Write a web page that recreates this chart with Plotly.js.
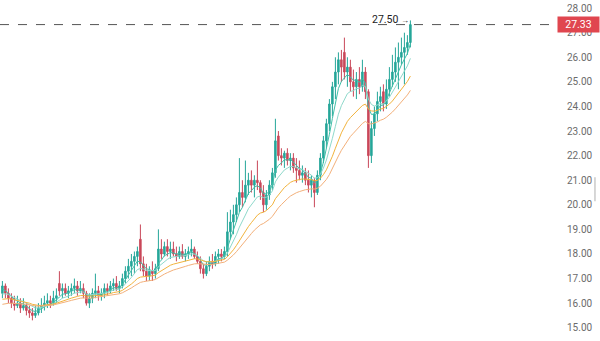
<!DOCTYPE html>
<html>
<head>
<meta charset="utf-8">
<script src="https://cdn.plot.ly/plotly-3.0.1.min.js"></script>
<style>
html,body{margin:0;padding:0;background:#fff;}
#chart{width:600px;height:341px;}
</style>
</head>
<body>
<div id="chart"></div>
<script>
// OHLC data (index = bar number)
const opens = [
16.4,16.7,16.4,16.2,16.0,15.9,16.0,15.8,15.9,15.7,
15.6,15.5,15.6,15.8,15.9,16.0,16.1,16.0,16.2,16.8,
16.5,16.6,16.4,16.5,16.6,16.7,16.5,16.6,16.4,16.0,
16.2,16.4,16.5,16.3,16.4,16.6,16.5,16.7,16.8,16.6,
16.7,17.0,17.3,17.5,17.7,17.9,18.6,17.6,17.3,17.1,
17.3,17.2,17.4,18.2,18.0,18.3,18.1,18.2,18.0,17.9,
18.1,17.9,18.0,18.1,18.2,17.9,17.7,17.4,17.2,17.5,
17.7,17.6,17.9,18.0,17.9,18.1,18.9,19.3,19.6,20.0,
20.5,20.3,20.8,21.0,20.8,21.0,20.9,20.5,20.0,20.4,
20.8,21.3,22.8,22.0,21.9,22.1,21.8,21.9,21.5,21.4,
21.2,21.3,21.0,20.8,21.0,20.5,21.2,21.9,22.6,23.3,
24.1,24.8,25.4,25.9,26.2,25.4,25.6,25.0,24.8,25.1,
24.8,25.4,24.6,22.0,23.1,23.7,24.2,24.6,24.1,24.7,
25.1,25.4,25.8,26.0,26.2,26.4,26.6];
const highs = [
16.9,16.8,16.6,16.4,16.3,16.3,16.2,16.2,16.0,15.9,
15.8,15.9,16.0,16.2,16.3,16.4,16.3,16.5,16.6,17.3,
16.8,16.8,16.7,16.8,17.0,16.9,16.9,16.8,16.5,16.4,
16.6,17.2,16.7,16.6,16.8,16.8,16.9,17.0,17.1,16.9,
17.2,17.5,17.8,18.0,18.1,18.3,19.2,17.9,17.6,17.5,
17.7,17.6,19.0,18.6,18.5,18.6,18.5,18.5,18.3,18.3,
18.4,18.2,18.3,18.6,18.3,18.1,17.9,17.6,17.7,17.9,
18.0,18.1,18.2,18.2,18.3,19.7,19.8,20.0,20.3,21.9,
21.0,21.8,21.3,21.4,21.2,21.8,21.0,20.8,20.6,21.0,
21.5,23.5,23.0,22.3,22.2,22.3,22.1,22.1,21.9,21.8,
21.6,21.5,21.4,21.2,21.1,21.4,22.1,22.8,23.5,24.3,
25.0,26.0,26.2,26.3,26.8,26.0,25.9,25.5,25.4,25.6,
25.9,25.6,24.7,23.4,24.0,24.6,24.8,24.9,25.1,25.6,
26.1,26.4,26.6,26.8,27.0,26.9,27.5];
const lows = [
16.2,16.2,16.0,15.8,15.7,15.8,15.6,15.7,15.5,15.4,
15.3,15.4,15.5,15.6,15.7,15.8,15.8,15.9,16.0,16.3,
16.2,16.3,16.2,16.3,16.4,16.3,16.4,16.2,15.9,15.8,
16.0,16.2,16.1,16.1,16.2,16.3,16.4,16.5,16.5,16.4,
16.6,16.8,17.0,17.1,17.2,17.5,17.3,17.1,16.9,16.9,
16.9,17.0,17.3,17.8,17.9,17.9,17.8,17.9,17.7,17.8,
17.8,17.7,17.8,17.9,17.8,17.6,17.2,17.0,17.1,17.3,
17.4,17.5,17.6,17.7,17.8,17.9,18.6,18.8,19.3,19.7,
19.9,20.1,20.4,20.5,20.3,20.6,20.2,19.7,19.8,20.2,
20.6,21.1,21.8,21.6,21.5,21.6,21.4,21.3,20.9,21.0,
20.9,20.8,20.5,20.3,19.9,20.4,21.0,21.7,22.3,23.0,
23.6,24.3,24.9,25.0,25.1,24.8,24.6,24.4,24.3,24.5,
24.6,24.3,21.5,21.7,22.8,23.4,23.8,23.8,23.9,24.4,
24.8,25.0,24.7,25.7,24.9,26.1,26.4];
const closes = [
16.7,16.4,16.2,16.0,15.9,16.0,15.8,15.9,15.7,15.6,
15.5,15.6,15.8,15.9,16.0,16.1,16.0,16.2,16.3,16.5,
16.6,16.4,16.5,16.6,16.7,16.5,16.6,16.4,16.0,16.2,
16.4,16.5,16.3,16.4,16.6,16.5,16.7,16.8,16.6,16.7,
17.0,17.3,17.5,17.7,17.9,18.1,17.6,17.3,17.1,17.3,
17.2,17.4,18.2,18.0,18.3,18.1,18.2,18.0,17.9,18.1,
17.9,18.0,18.1,18.2,17.9,17.7,17.4,17.2,17.5,17.7,
17.6,17.9,18.0,17.9,18.1,18.9,19.3,19.6,20.0,20.5,
20.3,20.8,21.0,20.8,21.0,20.9,20.5,20.0,20.4,20.8,
21.3,22.6,22.0,21.9,22.1,21.8,21.9,21.5,21.4,21.2,
21.3,21.0,20.8,21.0,20.5,21.2,21.9,22.6,23.3,24.1,
24.8,25.4,25.9,25.6,25.4,25.6,25.0,24.8,25.1,24.8,
25.4,24.6,22.0,23.1,23.7,24.2,24.4,24.1,24.7,25.1,
25.4,25.8,26.0,26.2,26.4,26.6,27.33];

// Moving averages: periods and their starting levels read from the left edge
const maPeriods = [5, 10, 20, 30];
const maStarts  = [16.5, 16.3, 16.1, 15.9];
const maColors  = ['#3fbfa8', '#8fd9cb', '#f2b33d', '#f3b07a'];

const yTicks = [15,16,17,18,19,20,21,22,23,24,25,26,27,28];
const lastPrice = 27.33;
const lastHigh = 27.50;

const idx = closes.map((_, i) => i);

function ema(values, period, start) {
  const k = 2 / (period + 1);
  const out = [];
  let prev = start;
  for (const v of values) { prev = prev + k * (v - prev); out.push(prev); }
  return out;
}

const traces = [];
maPeriods.forEach((p, j) => {
  traces.push({
    type: 'scatter', mode: 'lines', x: idx, y: ema(closes, p, maStarts[j]),
    line: {color: maColors[j], width: 1}, hoverinfo: 'skip'
  });
});
traces.push({
  type: 'candlestick', x: idx, open: opens, high: highs, low: lows, close: closes,
  increasing: {line: {color: '#26a69a', width: 1}, fillcolor: '#26a69a'},
  decreasing: {line: {color: '#c9485a', width: 1}, fillcolor: '#c9485a'},
  whiskerwidth: 0, hoverinfo: 'skip'
});

const layout = {
  width: 600, height: 341,
  margin: {l: 0, r: 45, t: 0, b: 0},
  paper_bgcolor: '#ffffff', plot_bgcolor: '#ffffff',
  showlegend: false, hovermode: false,
  xaxis: {range: [-0.8, 184.2], visible: false, rangeslider: {visible: false}, fixedrange: true},
  yaxis: {
    range: [14.46, 28.33], side: 'right', showgrid: false, zeroline: false,
    tickvals: yTicks, ticktext: yTicks.map(v => v.toFixed(2)),
    ticks: '', ticklabelstandoff: 11,
    tickfont: {family: 'Roboto, sans-serif', size: 10, color: '#6b6b6b'},
    showline: false, fixedrange: true
  },
  shapes: [
    {type: 'line', xref: 'paper', x0: 0, x1: 1.005, yref: 'y', y0: lastPrice, y1: lastPrice,
     line: {color: '#555555', width: 1, dash: 'dash'}},
    {type: 'rect', xref: 'paper', x0: 1.0705, x1: 1.0735, yref: 'paper', y0: 0.41, y1: 0.48,
     fillcolor: '#cfcfcf', line: {width: 0}}
  ],
  annotations: [
    {xref: 'paper', x: 1.004, xanchor: 'left', yref: 'y', y: lastPrice, yanchor: 'middle',
     text: lastPrice.toFixed(2), showarrow: false, bgcolor: '#e0464f',
     font: {family: 'Roboto, sans-serif', size: 10.5, color: '#ffffff'},
     width: 38, height: 12, borderpad: 1.5},
    {xref: 'x', x: idx[idx.length - 1], xanchor: 'right', xshift: 1, yref: 'y', y: lastHigh, yanchor: 'middle',
     yshift: 1, text: lastHigh.toFixed(2) + ' <span style="font-size:8px">→</span>', showarrow: false,
     font: {family: 'Roboto, sans-serif', size: 10.5, color: '#222222'}}
  ]
};

Plotly.newPlot('chart', traces, layout, {displayModeBar: false, staticPlot: true});
</script>
</body>
</html>
